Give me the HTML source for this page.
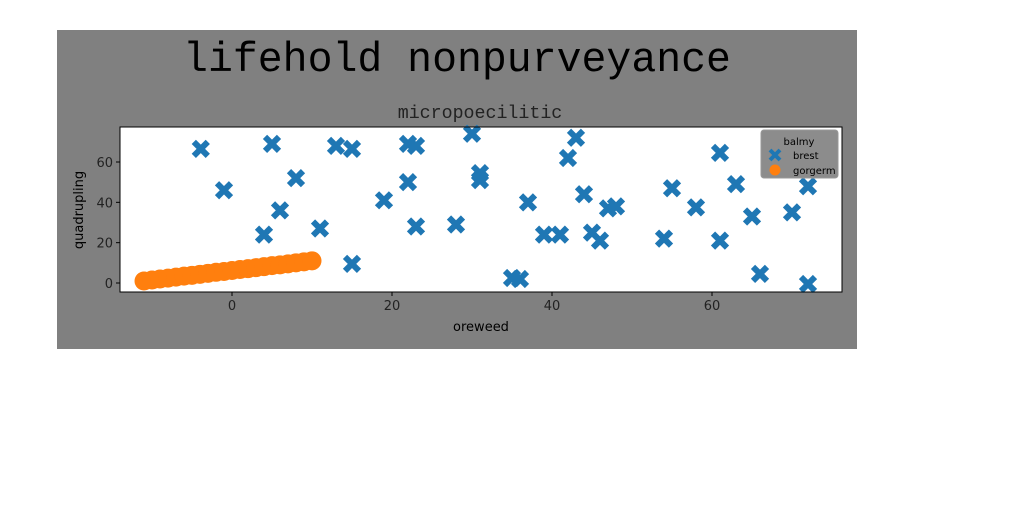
<!DOCTYPE html>
<html><head><meta charset="utf-8"><style>
body{margin:0;background:#fff;width:1024px;height:512px;overflow:hidden}
text{font-family:"DejaVu Sans","Liberation Sans",sans-serif}
</style></head><body>
<svg id="chart" width="1024" height="512">
<rect x="57" y="30" width="800" height="319" fill="#808080"/>
<text x="457" y="71" text-anchor="middle" font-size="41.5" style="font-family:'Liberation Mono',monospace" fill="#000">lifehold nonpurveyance</text>
<text x="480" y="118" text-anchor="middle" font-size="18.3" style="font-family:'Liberation Mono',monospace" fill="#222">micropoecilitic</text>
<rect x="120" y="127" width="722" height="165" fill="#fff"/>
<g id="marks"></g>
<rect x="120" y="127" width="722" height="165" fill="none" stroke="#000" stroke-width="1"/>
<g id="axes"></g>
<text x="481" y="331" text-anchor="middle" font-size="13">oreweed</text>
<text transform="translate(83,210) rotate(-90)" text-anchor="middle" font-size="13">quadrupling</text>
<g>
<rect x="761" y="130" width="77" height="48" rx="3" fill="#8c8c8c" stroke="#999"/>
<text x="799" y="145" text-anchor="middle" font-size="10">balmy</text>
<path d="M770,150 L780,160 M780,150 L770,160" stroke="#1f77b4" stroke-width="4"/>
<text x="793" y="159" font-size="10">brest</text>
<circle cx="775" cy="170" r="5.5" fill="#ff7f0e"/>
<text x="793" y="174" font-size="10">gorgerm</text>
</g>
</svg>
<script>
const brestX=[-3.9,-1,5,4,6,8,11,13,15,15,19,22,22,23,23,28,30,31,31,35,36,37,39,41,42,43,44,45,46,47,48,54,55,58,61,61,63,65,66,70,72,72];
const brestY=[66.5,46,69,24,36,52,27,68,66.5,9.5,41,69,50,68,28,29,74,54.5,51,2.5,2,40,24,24,62,72,44,25,21,37,38,22,47,37.5,64.5,21,49,33,4.5,35,48,-0.5];
const gorgX=[-11,-10,-9,-8,-7,-6,-5,-4,-3,-2,-1,0,1,2,3,4,5,6,7,8,9,10];
const gorgY=[1,1.5,2,2.4,2.9,3.4,3.8,4.3,4.8,5.3,5.7,6.2,6.7,7.1,7.6,8.1,8.6,9,9.5,10,10.5,11];
const xTicks=[0,20,40,60];
const yTicks=[0,20,40,60];
const NS='http://www.w3.org/2000/svg';
const sx=v=>232+v*8, sy=v=>283-v*2.0167;
const marks=document.getElementById('marks'), axes=document.getElementById('axes');
function mk(tag,attrs,parent){const e=document.createElementNS(NS,tag);for(const k in attrs)e.setAttribute(k,attrs[k]);parent.appendChild(e);return e;}
brestX.forEach((x,i)=>{const cx=sx(x),cy=sy(brestY[i]);
 const p=mk('path',{d:`M${cx-7},${cy-7}L${cx+7},${cy+7}M${cx+7},${cy-7}L${cx-7},${cy+7}`,stroke:'#1f77b4','stroke-width':6},marks);
 
 });
gorgX.forEach((x,i)=>{const c=mk('circle',{cx:sx(x),cy:sy(gorgY[i]),r:9.5,fill:'#ff7f0e'},marks);
 
 });
xTicks.forEach(t=>{mk('line',{x1:sx(t),x2:sx(t),y1:292,y2:296,stroke:'#000'},axes);
 const tx=mk('text',{x:sx(t),y:310,'text-anchor':'middle','font-size':13,fill:'#222'},axes);tx.textContent=t;
 
 });
yTicks.forEach(t=>{mk('line',{x1:116,x2:120,y1:sy(t),y2:sy(t),stroke:'#000'},axes);
 const tx=mk('text',{x:113,y:sy(t)+5,'text-anchor':'end','font-size':13,fill:'#222'},axes);tx.textContent=t;
 
 });
</script>
</body></html>
